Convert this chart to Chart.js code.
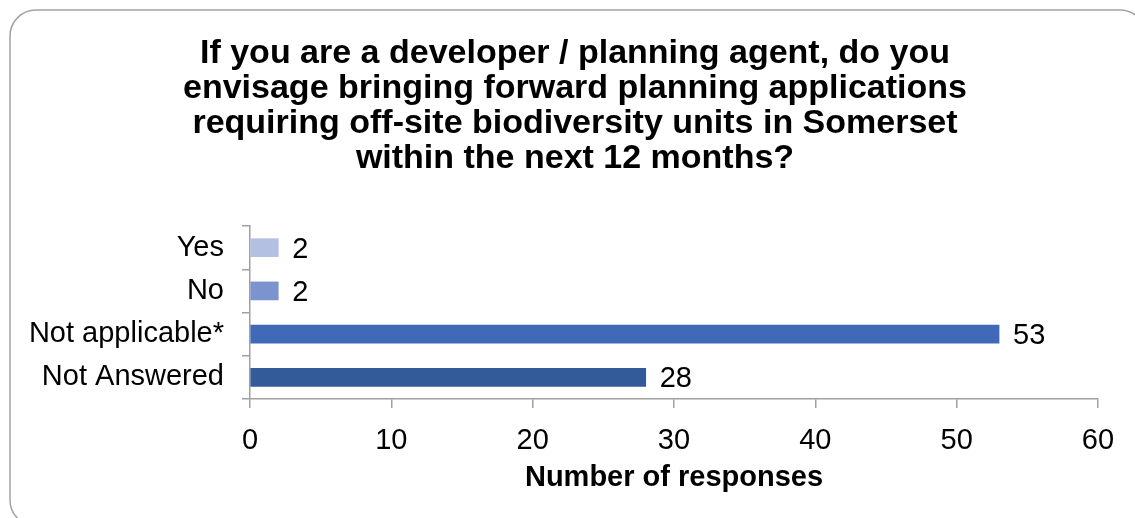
<!DOCTYPE html>
<html>
<head>
<meta charset="utf-8">
<title>Off-site biodiversity units</title>
<script src="https://cdn.jsdelivr.net/npm/chart.js@4/dist/chart.umd.min.js"></script>
<style>
    body { margin: 0; background: #fff; }
    #wrap { width: 1135px; height: 518px; }
</style>
</head>
<body>
<div id="wrap"><canvas id="barChart" width="1135" height="518"></canvas></div>
<script>
// survey answers
var answers = ['Yes', 'No', 'Not applicable*', 'Not Answered'];
var responses = [2, 2, 53, 28];
var barColours = ['#b4c0e2', '#7b93cf', '#4069b8', '#335a99'];
var xTicks = [0, 10, 20, 30, 40, 50, 60];

var titleLines = [
    'If you are a developer / planning agent, do you',
    'envisage bringing forward planning applications',
    'requiring off-site biodiversity units in Somerset',
    'within the next 12 months?'
];

var fontFamily = '"Liberation Sans", Arial, sans-serif';
var axisGrey = '#a0a0a0';

// rounded frame round the whole chart (runs off the right and bottom edge)
var framePlugin = {
    id: 'frame',
    afterLayout: function (chart) {
        // let the title use the full width so it is centred on the frame
        if (chart.titleBlock) {
            chart.titleBlock.right = chart.width;
        }
    },
    beforeDraw: function (chart) {
        var ctx = chart.ctx;
        ctx.save();
        ctx.fillStyle = '#fff';
        ctx.fillRect(0, 0, chart.width, chart.height);
        ctx.strokeStyle = '#a3a3a3';
        ctx.lineWidth = 1.5;
        ctx.beginPath();
        ctx.roundRect(10, 10, 1136, 516, 26);
        ctx.stroke();
        ctx.restore();
    }
};

// value written just past the end of each bar
var valueLabels = {
    id: 'valueLabels',
    afterDatasetsDraw: function (chart) {
        var ctx = chart.ctx;
        var meta = chart.getDatasetMeta(0);
        ctx.save();
        ctx.font = '29px ' + fontFamily;
        ctx.fillStyle = '#000';
        ctx.textAlign = 'left';
        ctx.textBaseline = 'middle';
        meta.data.forEach(function (bar, i) {
            ctx.fillText(String(chart.data.datasets[0].data[i]), bar.x + 14, bar.y + 2);
        });
        ctx.restore();
    }
};

var barChartCanvas = document.getElementById('barChart').getContext('2d');

var barChart = new Chart(barChartCanvas, {
    type: 'bar',
    data: {
        labels: answers,
        datasets: [{
            data: responses,
            backgroundColor: barColours,
            borderWidth: 0,
            barThickness: 18
        }]
    },
    options: {
        indexAxis: 'y',
        responsive: false,
        animation: false,
        events: [],
        layout: {
            padding: { left: 15, right: 37, top: 0, bottom: 0 }
        },
        plugins: {
            legend: { display: false },
            tooltip: { enabled: false },
            title: {
                display: true,
                text: titleLines,
                color: '#000',
                font: { family: fontFamily, size: 34, weight: 'bold', lineHeight: 1.03 },
                padding: { top: 36, bottom: 50 }
            }
        },
        scales: {
            x: {
                min: 0,
                max: 60,
                afterBuildTicks: function (scale) {
                    scale.ticks = xTicks.map(function (v) { return { value: v }; });
                },
                afterFit: function (scale) {
                    scale.height = 119;
                },
                grid: {
                    display: true,
                    drawOnChartArea: false,
                    tickLength: 9,
                    color: axisGrey,
                    lineWidth: 1.5
                },
                border: { color: axisGrey, width: 1.5 },
                ticks: {
                    color: '#000',
                    padding: 16,
                    font: { family: fontFamily, size: 29 }
                },
                title: {
                    display: true,
                    text: 'Number of responses',
                    color: '#000',
                    font: { family: fontFamily, size: 29, weight: 'bold' },
                    padding: { top: 0, bottom: 23 }
                }
            },
            y: {
                afterFit: function (scale) {
                    scale.width = 235;
                },
                grid: {
                    display: true,
                    offset: true,
                    drawOnChartArea: false,
                    tickLength: 8,
                    color: axisGrey,
                    lineWidth: 1.5
                },
                border: { color: axisGrey, width: 1.5 },
                ticks: {
                    color: '#000',
                    padding: 18,
                    font: { family: fontFamily, size: 29 }
                }
            }
        }
    },
    plugins: [framePlugin, valueLabels]
});
</script>
</body>
</html>
